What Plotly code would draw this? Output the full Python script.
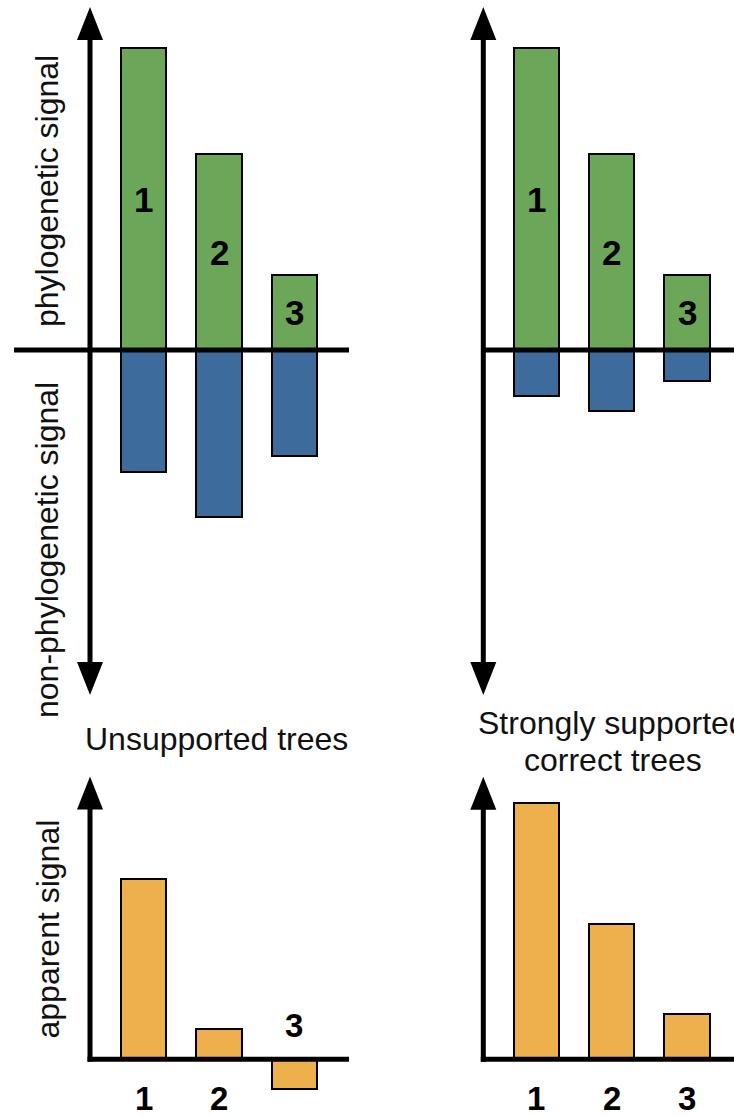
import plotly.graph_objects as go

# ---- data -------------------------------------------------------------
categories = [1, 2, 3]
tree_labels = ["1", "2", "3"]

# Unsupported trees
unsup_phylo = [302, 196, 75]
unsup_nonphylo = [-122, -167, -106]
unsup_apparent = [180, 30, -30]

# Strongly supported correct trees
strong_phylo = [302, 196, 75]
strong_nonphylo = [-46, -61, -31]
strong_apparent = [256, 135, 45]

axis_titles = ["phylogenetic signal", "non-phylogenetic signal", "apparent signal"]
panel_titles = ["Unsupported trees", "Strongly supported", "correct trees"]

# ---- style ------------------------------------------------------------
GREEN = "#6ba659"
BLUE = "#3d6b9c"
ORANGE = "#edb04c"
FONT = "Liberation Sans, Arial, Helvetica, sans-serif"
W, H = 734, 1116
STEP = 75.4          # pixels between neighbouring categories
BAR_W = 0.6          # bar width in category units
AXIS_LW = 5
HEAD_HALF = 13       # half width of arrow heads (px)
HEAD_LEN = 33        # length of arrow heads (px)

# panel geometry in page pixels
panels = {
    "tl": dict(ax="", xd=(0, 367), yd=(0, 720), c1=143.6, zero=350, axis=90,
               hline=(14, 349), up_tip=7, down_tip=695),
    "tr": dict(ax="2", xd=(367, 734), yd=(0, 720), c1=536.3, zero=350, axis=483.3,
               hline=(483.3, 745), up_tip=7, down_tip=695),
    "bl": dict(ax="3", xd=(0, 367), yd=(770, 1116), c1=143.6, zero=1059.3, axis=90,
               hline=(90, 349), up_tip=776.5, down_tip=None),
    "br": dict(ax="4", xd=(367, 734), yd=(770, 1116), c1=536.3, zero=1059.3, axis=483.3,
               hline=(483.3, 745), up_tip=776.7, down_tip=None),
}


def to_x(p, px):
    return 1 + (px - p["c1"]) / STEP


def to_y(p, py):
    return p["zero"] - py


fig = go.Figure()
layout_axes = {}
shapes = []
annotations = []

for key, p in panels.items():
    ax = p["ax"]
    xname, yname = "xaxis" + ax, "yaxis" + ax
    layout_axes[xname] = dict(
        domain=[p["xd"][0] / W, p["xd"][1] / W],
        range=[to_x(p, p["xd"][0]), to_x(p, p["xd"][1])],
        visible=False, fixedrange=True, anchor="y" + ax,
    )
    layout_axes[yname] = dict(
        domain=[1 - p["yd"][1] / H, 1 - p["yd"][0] / H],
        range=[to_y(p, p["yd"][1]), to_y(p, p["yd"][0])],
        visible=False, fixedrange=True, anchor="x" + ax,
    )
    xref, yref = "x" + ax, "y" + ax
    xa = to_x(p, p["axis"])
    hw = HEAD_HALF / STEP

    # horizontal baseline
    shapes.append(dict(type="line", xref=xref, yref=yref,
                       x0=to_x(p, p["hline"][0] - (AXIS_LW / 2 if p["down_tip"] is None else 0)),
                       x1=to_x(p, p["hline"][1]), y0=0, y1=0,
                       line=dict(color="black", width=AXIS_LW)))
    # vertical axis with arrow heads
    y_top_base = to_y(p, p["up_tip"] + HEAD_LEN)
    if p["down_tip"] is not None:
        y_bottom = to_y(p, p["down_tip"] - HEAD_LEN)
    else:
        y_bottom = -AXIS_LW / 2
    shapes.append(dict(type="line", xref=xref, yref=yref,
                       x0=xa, x1=xa, y0=y_bottom, y1=y_top_base + 1,
                       line=dict(color="black", width=AXIS_LW)))
    yt = to_y(p, p["up_tip"])
    shapes.append(dict(type="path", xref=xref, yref=yref,
                       path=f"M {xa - hw},{y_top_base} L {xa + hw},{y_top_base} L {xa},{yt} Z",
                       fillcolor="black", line=dict(width=0)))
    if p["down_tip"] is not None:
        yb = to_y(p, p["down_tip"])
        shapes.append(dict(type="path", xref=xref, yref=yref,
                           path=f"M {xa - hw},{y_bottom} L {xa + hw},{y_bottom} L {xa},{yb} Z",
                           fillcolor="black", line=dict(width=0)))


def signal_bars(values, color, ax):
    return go.Bar(
        x=categories, y=values, width=BAR_W,
        marker=dict(color=color, line=dict(color="black", width=2)),
        xaxis="x" + ax, yaxis="y" + ax, showlegend=False, hoverinfo="skip",
    )


# top panels: phylogenetic (up) and non-phylogenetic (down) signal
fig.add_trace(signal_bars(unsup_phylo, GREEN, ""))
fig.add_trace(signal_bars(unsup_nonphylo, BLUE, ""))
fig.add_trace(signal_bars(strong_phylo, GREEN, "2"))
fig.add_trace(signal_bars(strong_nonphylo, BLUE, "2"))

# bottom panels: apparent signal
fig.add_trace(signal_bars(unsup_apparent, ORANGE, "3"))
fig.add_trace(signal_bars(strong_apparent, ORANGE, "4"))

# tree numbers centred inside the phylogenetic-signal bars
for ax, vals in (("", unsup_phylo), ("2", strong_phylo)):
    for c, lab, v in zip(categories, tree_labels, vals):
        annotations.append(dict(
            x=c, y=v / 2, xref="x" + ax, yref="y" + ax, text=lab, showarrow=False,
            yanchor="middle", xanchor="center",
            font=dict(family=FONT, size=35, color="black", weight="bold"),
        ))

# tree numbers on the opposite side of the baseline from each apparent bar
for ax, vals in (("3", unsup_apparent), ("4", strong_apparent)):
    for c, lab, v in zip(categories, tree_labels, vals):
        annotations.append(dict(
            x=c, y=0, xref="x" + ax, yref="y" + ax, text=lab, showarrow=False,
            yshift=-39 if v >= 0 else 34, yanchor="middle", xanchor="center",
            font=dict(family=FONT, size=33, color="black", weight="bold"),
        ))

# rotated axis titles
for title, yc in zip(axis_titles, (191, 550, 929.5)):
    annotations.append(dict(
        x=47 / W, y=1 - yc / H, xref="paper", yref="paper", text=title,
        textangle=-90, showarrow=False, xanchor="center", yanchor="middle",
        font=dict(family=FONT, size=32, color="#111111"),
    ))

# panel captions
for title, (xc, yc) in zip(panel_titles, ((217, 739), (612.5, 723), (612.5, 760))):
    annotations.append(dict(
        x=xc / W, y=1 - yc / H, xref="paper", yref="paper", text=title,
        showarrow=False, xanchor="center", yanchor="middle",
        font=dict(family=FONT, size=32, color="#111111"),
    ))

fig.update_layout(
    width=W, height=H,
    margin=dict(l=0, r=0, t=0, b=0),
    paper_bgcolor="white", plot_bgcolor="rgba(0,0,0,0)",
    barmode="relative", bargap=0,
    shapes=shapes, annotations=annotations,
    **layout_axes,
)

fig.write_html("out.html", config={"displayModeBar": False})
